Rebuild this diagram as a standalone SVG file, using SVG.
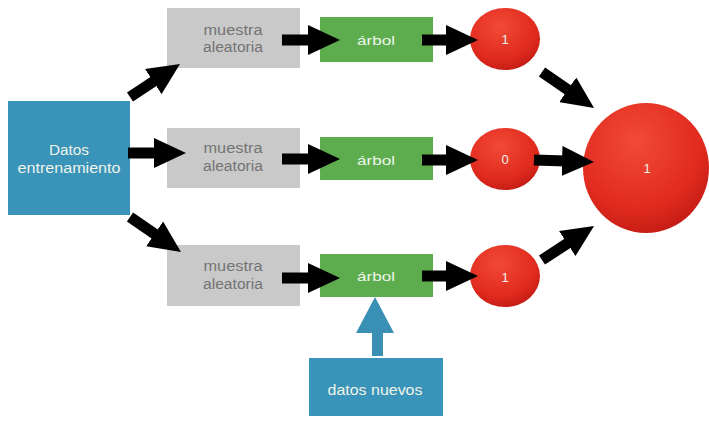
<svg xmlns="http://www.w3.org/2000/svg" width="709" height="421" viewBox="0 0 709 421">
  <defs>
    <radialGradient id="redBall" cx="0.42" cy="0.3" r="0.75">
      <stop offset="0" stop-color="#f24a36"/>
      <stop offset="0.7" stop-color="#e02a1e"/>
      <stop offset="1" stop-color="#c01a14"/>
    </radialGradient>
    <marker id="head" viewBox="0 0 32 30" refX="12" refY="15" markerWidth="32" markerHeight="30" markerUnits="userSpaceOnUse" orient="auto">
      <path d="M0,0 L32,15 L0,30 z" fill="#000"/>
    </marker>
    <style>
      .blue { fill: #3a93b8; }
      .gray { fill: #c9c9c9; }
      .green { fill: #5dad4e; }
      .ball { fill: url(#redBall); }
      text { font-family: "Liberation Sans", Arial, sans-serif; font-size: 14px; text-anchor: middle; }
      .small { font-size: 13px; }
      .dark { fill: #747474; }
      .light { fill: #eef4ea; }
      .arrow { stroke: #000; stroke-width: 11; fill: none; marker-end: url(#head); }
    </style>
  </defs>
  <rect width="709" height="421" fill="#ffffff"/>

  <!-- source data -->
  <g id="datos-entrenamiento">
    <rect class="blue" x="8" y="101" width="122" height="114"/>
    <text class="light" x="69" y="155" textLength="40" lengthAdjust="spacingAndGlyphs">Datos</text>
    <text class="light" x="69" y="173" textLength="103" lengthAdjust="spacingAndGlyphs">entrenamiento</text>
  </g>

  <!-- random samples -->
  <g id="muestra-1">
    <rect class="gray" x="167" y="8" width="133" height="60"/>
    <text class="dark" x="233" y="35" textLength="59" lengthAdjust="spacingAndGlyphs">muestra</text>
    <text class="dark" x="233" y="52" textLength="60" lengthAdjust="spacingAndGlyphs">aleatoria</text>
  </g>
  <g id="muestra-2">
    <rect class="gray" x="167" y="128" width="133" height="60"/>
    <text class="dark" x="233" y="153" textLength="59" lengthAdjust="spacingAndGlyphs">muestra</text>
    <text class="dark" x="233" y="171" textLength="60" lengthAdjust="spacingAndGlyphs">aleatoria</text>
  </g>
  <g id="muestra-3">
    <rect class="gray" x="167" y="245" width="133" height="61"/>
    <text class="dark" x="233" y="271" textLength="59" lengthAdjust="spacingAndGlyphs">muestra</text>
    <text class="dark" x="233" y="289" textLength="60" lengthAdjust="spacingAndGlyphs">aleatoria</text>
  </g>

  <!-- trees -->
  <g id="arbol-1">
    <rect class="green" x="320" y="17" width="113" height="45"/>
    <text class="light small" x="376" y="45" textLength="38" lengthAdjust="spacingAndGlyphs">árbol</text>
  </g>
  <g id="arbol-2">
    <rect class="green" x="320" y="137" width="113" height="43"/>
    <text class="light small" x="376" y="165" textLength="38" lengthAdjust="spacingAndGlyphs">árbol</text>
  </g>
  <g id="arbol-3">
    <rect class="green" x="320" y="254" width="113" height="43"/>
    <text class="light small" x="376" y="281" textLength="38" lengthAdjust="spacingAndGlyphs">árbol</text>
  </g>

  <!-- tree votes -->
  <g id="voto-1">
    <ellipse class="ball" cx="505" cy="39" rx="35" ry="31"/>
    <text class="light small" x="505" y="44">1</text>
  </g>
  <g id="voto-2">
    <ellipse class="ball" cx="505" cy="159" rx="35" ry="31"/>
    <text class="light small" x="505" y="164">0</text>
  </g>
  <g id="voto-3">
    <ellipse class="ball" cx="505" cy="276" rx="35" ry="31"/>
    <text class="light small" x="505" y="282">1</text>
  </g>

  <!-- combined result -->
  <g id="resultado">
    <ellipse class="ball" cx="646" cy="168" rx="63" ry="65"/>
    <text class="light small" x="647" y="173">1</text>
  </g>

  <!-- new data -->
  <g id="datos-nuevos">
    <rect class="blue" x="309" y="358" width="134" height="58"/>
    <text class="light" x="375" y="395" textLength="95" lengthAdjust="spacingAndGlyphs">datos nuevos</text>
  </g>

  <g id="conectores">
    <line class="arrow" x1="130" y1="97" x2="163.3" y2="75"/>
    <line class="arrow" x1="128" y1="153" x2="166" y2="153"/>
    <line class="arrow" x1="130" y1="217" x2="164.5" y2="240.7"/>

    <line class="arrow" x1="282" y1="40" x2="320" y2="40"/>
    <line class="arrow" x1="282" y1="159" x2="320" y2="159"/>
    <line class="arrow" x1="282" y1="278" x2="320" y2="278"/>

    <line class="arrow" x1="422" y1="40" x2="458" y2="40"/>
    <line class="arrow" x1="422" y1="160" x2="458" y2="160"/>
    <line class="arrow" x1="422" y1="276" x2="458" y2="276"/>

    <line class="arrow" x1="542" y1="72" x2="577.6" y2="96.6"/>
    <line class="arrow" x1="534" y1="160" x2="574" y2="161.3"/>
    <line class="arrow" x1="542" y1="260" x2="577.3" y2="236.9"/>

    <polygon fill="#3a8fb5" points="372,356 372,333 356,333 375,297 394,333 383,333 383,356"/>
  </g>
</svg>
